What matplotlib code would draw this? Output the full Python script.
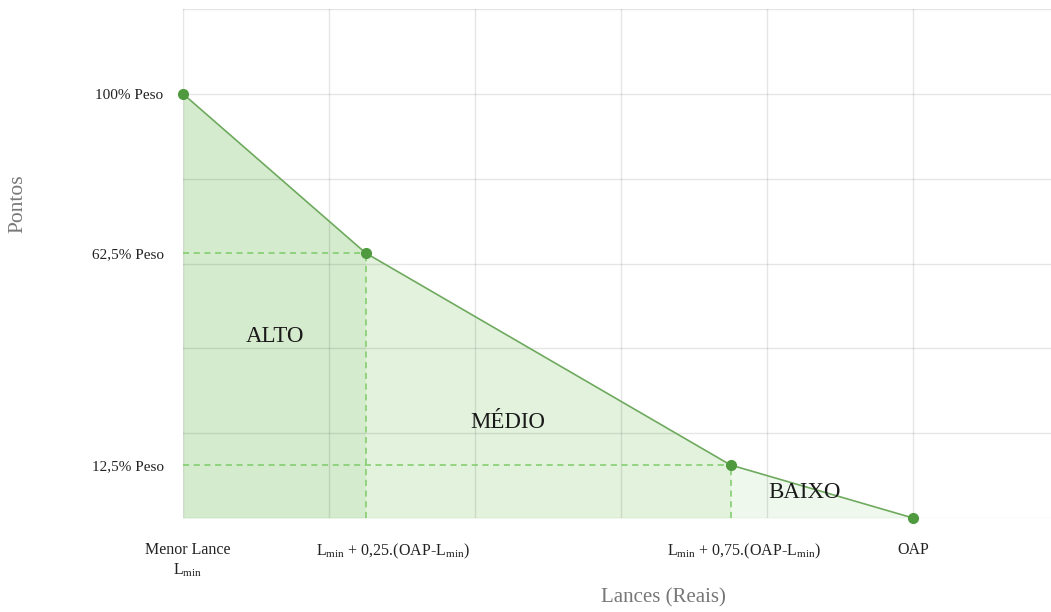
import matplotlib
matplotlib.use("Agg")
import matplotlib.pyplot as plt
import matplotlib.transforms as mtransforms

# fraction of (OAP - Lmin) and score as % of weight
lance_frac = [0.0, 0.25, 0.75, 1.0]
pontos = [100.0, 62.5, 12.5, 0.0]

x_labels = ["Menor Lance\nL$_{\\rm min}$",
            "L$_{\\rm min}$ + 0,25.(OAP-L$_{\\rm min}$)",
            "L$_{\\rm min}$ + 0,75.(OAP-L$_{\\rm min}$)",
            "OAP"]
y_ticks = [100.0, 62.5, 12.5]
y_labels = ["100% Peso", "62,5% Peso", "12,5% Peso"]

x_grid = [0.0, 0.2, 0.4, 0.6, 0.8, 1.0]
y_grid = [0, 20, 40, 60, 80, 100, 120]

zones = ["ALTO", "MÉDIO", "BAIXO"]
zone_pos = [(0.126, 42.7), (0.445, 22.4), (0.852, 5.9)]
zone_colors = ["#d5ebcd", "#e3f2dd", "#eff8ec"]

plt.rcParams["font.family"] = ["Liberation Serif", "DejaVu Serif"]
plt.rcParams["mathtext.fontset"] = "custom"
plt.rcParams["mathtext.rm"] = "Liberation Serif"

fig = plt.figure(figsize=(10.51, 6.12), dpi=100)
ax = fig.add_axes([183 / 1051, 94 / 612, 1 - 183 / 1051, 509 / 612])

line_c = "#6eaa5e"
dash_c = "#7ccb68"

for i, col in enumerate(zone_colors):
    xs = lance_frac[i:i + 2]
    ys = pontos[i:i + 2]
    ax.fill_between(xs, ys, 0, color=col, lw=0, zorder=1)

# grid drawn over the fills, semi-transparent
for gx in x_grid:
    ax.axvline(gx, color="black", alpha=0.1, lw=1.0, zorder=1.5)
for gy in y_grid:
    ax.axhline(gy, color="black", alpha=0.1, lw=1.0, zorder=1.5)

ax.plot(lance_frac, pontos, color=line_c, lw=1.2, zorder=3, clip_on=False)
ax.plot(lance_frac, pontos, "o", color="#4f9a3e", ms=7, zorder=4, clip_on=False)

# dashed guides
for xf, yv in zip(lance_frac[1:3], pontos[1:3]):
    ax.plot([0, xf], [yv, yv], ls=(0, (4, 3)), color=dash_c, lw=1.1, zorder=2)
    ax.plot([xf, xf], [0, yv], ls=(0, (4, 3)), color=dash_c, lw=1.1, zorder=2)

for name, (zx, zy) in zip(zones, zone_pos):
    ax.text(zx, zy, name, ha="center", va="center", fontsize=16.5, color="#1a1a1a", zorder=5)

ax.set_xlim(0, 1.189)
ax.set_ylim(0, 120)

ax.set_xticks(lance_frac)
ax.set_xticklabels(x_labels, fontsize=11.5, color="#222222", linespacing=1.25)
ax.set_yticks(y_ticks)
ax.set_yticklabels(y_labels, fontsize=11, color="#222222")
ax.tick_params(which="both", length=0)
ax.tick_params(axis="x", pad=17)
ax.tick_params(axis="y", pad=14)

# nudge middle labels to the right like the original
shifts = [5, 27, 13, 0]
for lab, dx in zip(ax.get_xticklabels(), shifts):
    lab.set_transform(lab.get_transform() + mtransforms.ScaledTranslation(dx / 100, 0, fig.dpi_scale_trans))

for s in ax.spines.values():
    s.set_visible(False)

fig.text(18 / 1051, 1 - 204 / 612, "Pontos", rotation=90, ha="center", va="center",
         fontsize=15.5, color="#777777")
fig.text(663 / 1051, 1 - 598 / 612, "Lances (Reais)", ha="center", va="center",
         fontsize=15, color="#777777")

fig.savefig("out.png", dpi=100)
